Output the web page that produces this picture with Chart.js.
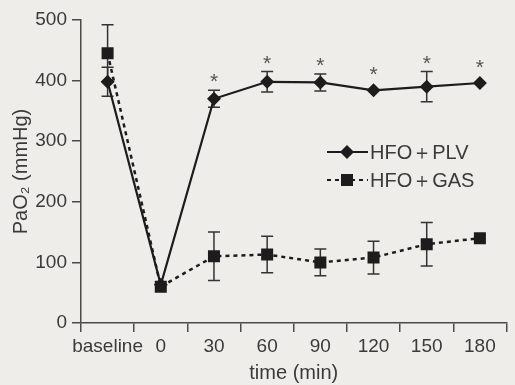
<!DOCTYPE html>
<html>
<head>
<meta charset="utf-8">
<script src="https://cdn.jsdelivr.net/npm/chart.js@4"></script>
<style>
  html, body { margin: 0; padding: 0; background: #eeede9; }
  #wrap { width: 515px; height: 385px; }
</style>
</head>
<body>
<div id="wrap"><canvas id="c" width="515" height="385"></canvas></div>
<script>
const categories = ['baseline', '0', '30', '60', '90', '120', '150', '180'];
const plvMean = [398, 63, 370, 398, 397, 384, 390, 396];
const plvErr  = [24, 0, 14, 17, 14, 0, 25, 0];
const gasMean = [445, 60, 110, 113, 100, 108, 130, 140];
const gasErr  = [47, 0, 40, 30, 22, 27, 36, 0];
const significant = [false, false, true, true, true, true, true, true];
const yTicks = [0, 100, 200, 300, 400, 500];
const seriesNames = ['HFO＋PLV', 'HFO＋GAS'];
const yTitle = 'PaO₂ (mmHg)';
const xTitle = 'time (min)';

const INK = '#1c1c1c';
const AXIS = '#4a4a4a';
const TEXT = '#3a3a3a';
const FONT = '"Liberation Sans", Arial, sans-serif';

const bgPlugin = {
  id: 'bg',
  beforeDraw(chart) {
    const ctx = chart.ctx;
    ctx.save();
    ctx.fillStyle = '#eeede9';
    ctx.fillRect(0, 0, chart.width, chart.height);
    ctx.restore();
  }
};

const errorBarPlugin = {
  id: 'errbars',
  beforeDatasetsDraw(chart) {
    const ctx = chart.ctx;
    const x = chart.scales.x, y = chart.scales.y;
    const sets = [[plvMean, plvErr], [gasMean, gasErr]];
    ctx.save();
    ctx.strokeStyle = '#333';
    ctx.lineWidth = 1.5;
    sets.forEach(([m, e]) => {
      m.forEach((v, i) => {
        if (!e[i]) return;
        const px = x.getPixelForValue(i);
        const top = y.getPixelForValue(v + e[i]);
        const bot = y.getPixelForValue(v - e[i]);
        ctx.beginPath();
        ctx.moveTo(px, top); ctx.lineTo(px, bot);
        ctx.moveTo(px - 6, top); ctx.lineTo(px + 6, top);
        ctx.moveTo(px - 6, bot); ctx.lineTo(px + 6, bot);
        ctx.stroke();
      });
    });
    ctx.restore();
  },
  afterDatasetsDraw(chart) {
    const ctx = chart.ctx;
    const x = chart.scales.x, y = chart.scales.y;
    ctx.save();
    ctx.fillStyle = '#555';
    ctx.font = '21px ' + FONT;
    ctx.textAlign = 'center';
    ctx.textBaseline = 'alphabetic';
    plvMean.forEach((v, i) => {
      if (!significant[i]) return;
      const px = x.getPixelForValue(i);
      const top = y.getPixelForValue(v + Math.max(plvErr[i], 12));
      ctx.fillText('*', px, top - 14 + 12);
    });
    ctx.restore();
  }
};

const legendPlugin = {
  id: 'customLegend',
  afterDraw(chart) {
    const ctx = chart.ctx;
    const items = [
      { label: seriesNames[0], dash: [], style: 'diamond', y: 152 },
      { label: seriesNames[1], dash: [4, 4], style: 'square', y: 180 }
    ];
    ctx.save();
    items.forEach(it => {
      ctx.strokeStyle = INK;
      ctx.lineWidth = 2.2;
      ctx.setLineDash(it.dash);
      ctx.beginPath();
      ctx.moveTo(327, it.y); ctx.lineTo(368, it.y);
      ctx.stroke();
      ctx.setLineDash([]);
      ctx.fillStyle = INK;
      ctx.beginPath();
      if (it.style === 'diamond') {
        ctx.moveTo(347, it.y - 7); ctx.lineTo(354, it.y);
        ctx.lineTo(347, it.y + 7); ctx.lineTo(340, it.y);
        ctx.closePath();
      } else {
        ctx.rect(341, it.y - 6, 12, 12);
      }
      ctx.fill();
      ctx.fillStyle = TEXT;
      ctx.font = '20px ' + FONT;
      ctx.textAlign = 'left';
      ctx.textBaseline = 'middle';
      ctx.fillText(it.label, 370, it.y + 1);
    });
    ctx.restore();
  }
};

new Chart(document.getElementById('c'), {
  type: 'line',
  data: {
    labels: categories,
    datasets: [
      {
        label: seriesNames[1],
        data: gasMean,
        borderColor: INK,
        backgroundColor: INK,
        borderWidth: 2.5,
        borderDash: [4, 4],
        pointStyle: 'rect',
        pointRadius: 8.5,
        pointHoverRadius: 8.5,
        pointBorderWidth: 0,
        tension: 0
      },
      {
        label: seriesNames[0],
        data: plvMean,
        borderColor: INK,
        backgroundColor: INK,
        borderWidth: 2.2,
        pointStyle: 'rectRot',
        pointRadius: 7,
        pointHoverRadius: 7,
        pointBorderWidth: 0,
        tension: 0
      }
    ]
  },
  options: {
    responsive: false,
    animation: false,
    events: [],
    layout: { padding: { top: 20, right: 0, bottom: 0, left: 0 } },
    plugins: {
      legend: { display: false },
      tooltip: { enabled: false }
    },
    scales: {
      x: {
        type: 'category',
        offset: true,
        grid: {
          offset: true,
          drawOnChartArea: false,
          drawTicks: true,
          tickLength: 9,
          color: AXIS,
          lineWidth: 1.5
        },
        border: { display: true, color: AXIS, width: 1.5 },
        ticks: {
          color: TEXT,
          font: { family: FONT, size: 19 },
          padding: 3,
          maxRotation: 0,
          autoSkip: false
        },
        title: {
          display: true,
          text: xTitle,
          color: TEXT,
          font: { family: FONT, size: 20 },
          padding: { top: 0, bottom: 0 }
        },
        afterFit(scale) { scale.height = 62; }
      },
      y: {
        min: 0,
        max: 500,
        afterBuildTicks(scale) { scale.ticks = yTicks.map(v => ({ value: v })); },
        grid: {
          drawOnChartArea: false,
          drawTicks: true,
          tickLength: 9,
          color: AXIS,
          lineWidth: 1.5
        },
        border: { display: true, color: AXIS, width: 1.5 },
        ticks: {
          color: TEXT,
          font: { family: FONT, size: 19 },
          padding: 5
        },
        title: {
          display: true,
          text: yTitle,
          color: TEXT,
          font: { family: FONT, size: 20 },
          padding: { top: 9, bottom: 0 }
        },
        afterFit(scale) { scale.width = 81; }
      }
    }
  },
  plugins: [bgPlugin, errorBarPlugin, legendPlugin]
});
</script>
</body>
</html>
